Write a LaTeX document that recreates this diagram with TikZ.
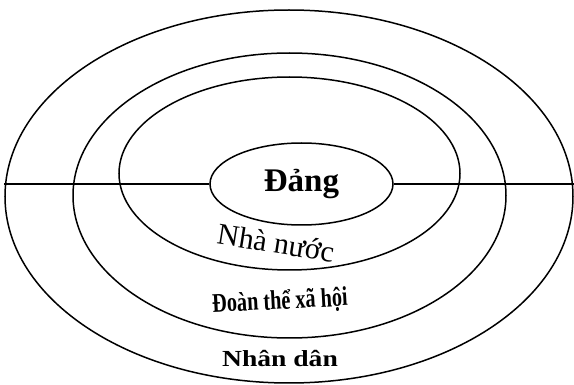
\documentclass[tikz,border=0pt]{standalone}
\usepackage{fontspec}
\setmainfont{Liberation Serif}
\usetikzlibrary{shapes.geometric}

\begin{document}
\begin{tikzpicture}[
  x=1pt, y=-1pt,
  ring/.style={draw, ellipse, inner sep=0pt, line width=1.5pt},
  axis line/.style={line width=1.5pt}
]
  \useasboundingbox (0,0) rectangle (574,385);

  % nested ellipses
  \node[ring, minimum width=568pt, minimum height=373pt] (nhandan) at (289,196.5) {};
  \node[ring, minimum width=433pt, minimum height=285pt] (doanthe) at (289.5,195.5) {};
  \node[ring, minimum width=341pt, minimum height=193pt] (nhanuoc) at (289.5,173.5) {};
  \node[ring, minimum width=183pt, minimum height=82pt,
        font=\fontsize{33}{36}\selectfont\bfseries] (dang) at (301.5,184) {Đảng};

  \draw[axis line] (dang.west) -- (dang.west -| nhandan.west);
  \draw[axis line] (dang.east) -- (dang.east -| nhandan.east);

  % ring labels
  \node[rotate=-9, font=\fontsize{30}{34}\selectfont] (nhanuoclbl) at (276,243) {Nhà nước};
  \node[rotate=3, xscale=0.75, font=\fontsize{27}{30}\selectfont\bfseries] (doanthelbl) at (280,302) {Đoàn thể xã hội};
  \node[xscale=1.2, font=\fontsize{23}{26}\selectfont\bfseries] (nhandanlbl) at (280,359) {Nhân dân};
\end{tikzpicture}
\end{document}
